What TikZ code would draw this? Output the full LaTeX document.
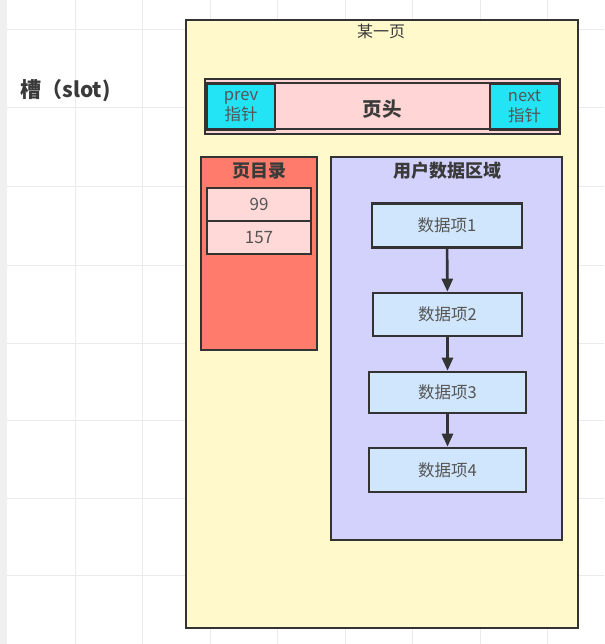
\documentclass[tikz,border=0pt]{standalone}
\usepackage{fontspec}
\setmainfont{Noto Sans CJK SC}
\usetikzlibrary{arrows.meta}
\definecolor{gridc}{HTML}{EAEAEA}
\definecolor{edge}{HTML}{333333}
\definecolor{pagefill}{HTML}{FFF9CC}
\definecolor{headfill}{HTML}{FFD5D5}
\definecolor{ptrfill}{HTML}{22E4F4}
\definecolor{dirfill}{HTML}{FF7B6B}
\definecolor{slotfill}{HTML}{FFD8D8}
\definecolor{userfill}{HTML}{D2D2FD}
\definecolor{itemfill}{HTML}{D0E6FC}
\definecolor{txt}{HTML}{3A3A3A}
\definecolor{lighttxt}{HTML}{555555}
\begin{document}
\begin{tikzpicture}[x=1pt,y=-1pt,
  box/.style={draw=edge,line width=2.6pt},
  item/.style={box,fill=itemfill,font=\fontsize{16.5}{18}\selectfont,text=lighttxt},
  slotbox/.style={box,fill=slotfill,minimum width=104pt,minimum height=33pt,inner sep=0pt,
    font=\fontsize{17}{19}\selectfont,text=lighttxt},
  ptr/.style={box,fill=ptrfill,minimum height=46pt,inner sep=0pt,align=center,
    font=\fontsize{16.5}{20.5}\selectfont,text=lighttxt},
  link/.style={draw=edge,line width=2.6pt,-{Triangle[length=13pt,width=11pt]}},
  title/.style={font=\fontsize{18}{20}\selectfont\bfseries,text=txt}]
\useasboundingbox (0,0) rectangle (604,644);
\fill[white] (0,0) rectangle (604,644);
\fill[gray!12] (0,0) rectangle (7,644);
% background grid
\foreach \gx in {75,142.5,210,277.5,345,412.5,480,547.5}
  \draw[gridc,line width=1pt] (\gx,0) -- (\gx,644);
\foreach \gy in {30,108,187,265,343,420,498,575}
  \draw[gridc,line width=1pt] (7,\gy) -- (604,\gy);

\node[anchor=west,font=\fontsize{21}{23}\selectfont\bfseries,text=txt] (slot) at (17,91) {槽（slot)};

% the page
\draw[box,fill=pagefill] (186,20) rectangle (578,628);
\node[font=\fontsize{16}{18}\selectfont,text=txt] (pagetitle) at (381,31) {某一页};

% page header
\draw[box,fill=headfill] (205,79) rectangle (560,134);
\draw[edge,line width=2pt] (205,83.5) -- (560,83.5);
\draw[edge,line width=2pt] (205,129.5) -- (560,129.5);
\node[ptr,minimum width=68pt] (prev) at (241,106.5) {\raisebox{-2pt}{prev}\\\raisebox{-1pt}{指针}};
\node[ptr,minimum width=69pt] (next) at (524.5,106.5) {\raisebox{-2pt}{next}\\\raisebox{-1pt}{指针}};
\node[title,font=\fontsize{19.5}{21}\selectfont\bfseries] (head) at (382,109) {页头};

% page directory
\draw[box,fill=dirfill] (201,157) rectangle (317,350);
\node[title] (dir) at (259,171) {页目录};
\node[slotbox] (s99) at (259,204.5) {99};
\node[slotbox] (s157) at (259,237.5) {157};

% user records
\draw[box,fill=userfill] (331,157) rectangle (562,540);
\node[title] (user) at (447,171) {用户数据区域};
\node[item,minimum width=150pt,minimum height=44pt,inner sep=0pt] (r1) at (447,225.5) {数据项1};
\node[item,minimum width=149pt,minimum height=43pt,inner sep=0pt] (r2) at (447.5,314.5) {数据项2};
\node[item,minimum width=157pt,minimum height=41pt,inner sep=0pt] (r3) at (447.5,392.5) {数据项3};
\node[item,minimum width=157pt,minimum height=44pt,inner sep=0pt] (r4) at (447.5,470) {数据项4};
\draw[link] (r1) -- (r2);
\draw[link] (r2) -- (r3);
\draw[link] (r3) -- (r4);
\end{tikzpicture}
\end{document}
